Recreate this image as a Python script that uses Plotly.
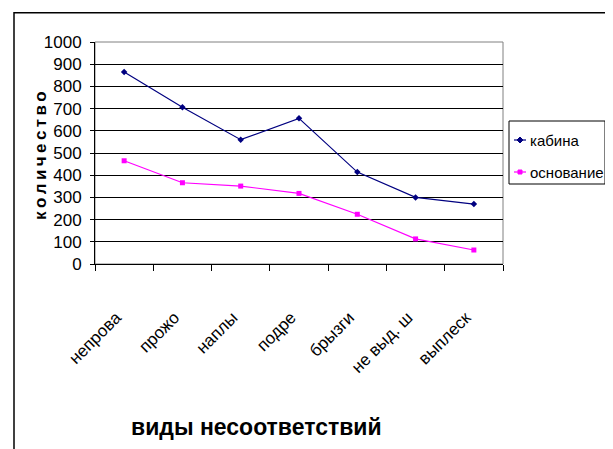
import plotly.graph_objects as go

categories = ["непрова", "прожо", "наплы", "подре", "брызги", "не выд. ш", "выплеск"]
kabina = [865, 706, 560, 656, 414, 300, 270]
osnovanie = [465, 366, 351, 318, 224, 113, 63]
y_ticks = [0, 100, 200, 300, 400, 500, 600, 700, 800, 900, 1000]
series_names = ["кабина", "основание"]
series_colors = ["#000080", "#FF00FF"]

FONT = "Liberation Sans, Arial, sans-serif"

# reference-pixel -> paper helpers (plot area 95..503 x, 42..264 y in the reference)
def px(x):
    return (x - 95) / 408.0

def py(y):
    return (264 - y) / 222.0

fig = go.Figure()
fig.add_trace(go.Scatter(
    x=categories, y=kabina, name=series_names[0], mode="lines+markers",
    line=dict(color=series_colors[0], width=1.2),
    marker=dict(symbol="diamond", size=5, color=series_colors[0]),
))
fig.add_trace(go.Scatter(
    x=categories, y=osnovanie, name=series_names[1], mode="lines+markers",
    line=dict(color=series_colors[1], width=1.2),
    marker=dict(symbol="square", size=5, color=series_colors[1]),
))

shapes = [
    dict(type="rect", xref="paper", yref="paper", x0=0, x1=1, y0=0, y1=1,
         line=dict(color="#808080", width=1), layer="below"),
    # outer chart border (left, top, right)
    dict(type="line", xref="paper", yref="paper", x0=px(14), x1=px(14),
         y0=py(470), y1=py(12), line=dict(color="black", width=1.5)),
    dict(type="rect", xref="paper", yref="paper", x0=px(14), x1=px(607),
         y0=py(13.5), y1=py(12), fillcolor="black", line=dict(width=0)),
    dict(type="line", xref="paper", yref="paper", x0=px(607), x1=px(607),
         y0=py(470), y1=py(12), line=dict(color="black", width=1.5)),
    # legend box
    dict(type="rect", xref="paper", yref="paper", x0=px(509), x1=px(605),
         y0=py(184), y1=py(121), line=dict(color="black", width=1), fillcolor="white"),
]
annotations = [
    dict(text="<b>к\u2009о\u2009л\u2009и\u2009ч\u2009е\u2009с\u2009т\u2009в\u2009о</b>",
         xref="paper", yref="paper", x=px(40), y=py(156), textangle=-90,
         xanchor="center", yanchor="middle",
         showarrow=False, font=dict(family=FONT, size=17, color="black")),
    dict(text="<b>виды несоответствий</b>", xref="paper", yref="paper",
         x=px(256), y=py(427), showarrow=False, xanchor="center", yanchor="middle",
         font=dict(family=FONT, size=23, color="black")),
]

legend_rows = [140, 172]
for name, color, row, sym in zip(series_names, series_colors, legend_rows, ["diamond", "square"]):
    shapes.append(dict(type="line", xref="paper", yref="paper",
                       x0=px(514), x1=px(526), y0=py(row), y1=py(row),
                       line=dict(color=color, width=1.2)))
    if sym == "diamond":
        path = "M {} {} L {} {} L {} {} L {} {} Z".format(
            px(520), py(row - 3), px(523), py(row), px(520), py(row + 3), px(517), py(row))
    else:
        path = "M {} {} L {} {} L {} {} L {} {} Z".format(
            px(518), py(row - 2), px(522), py(row - 2), px(522), py(row + 2), px(518), py(row + 2))
    shapes.append(dict(type="path", xref="paper", yref="paper", path=path,
                       fillcolor=color, line=dict(color=color, width=1)))
    annotations.append(dict(text=name, xref="paper", yref="paper", x=px(528), y=py(row),
                            xanchor="left", yanchor="middle", showarrow=False,
                            font=dict(family=FONT, size=15, color="black")))

# page body has an 8px margin: figure is 605x441 and shifted by 8px
fig.update_layout(
    width=605, height=441,
    margin=dict(l=87, r=110, t=34, b=185, autoexpand=False),
    paper_bgcolor="white", plot_bgcolor="white",
    font=dict(family=FONT, size=16, color="black"),
    showlegend=False,
    xaxis=dict(
        type="category", showgrid=False, showline=True, linecolor="black", linewidth=1,
        ticks="outside", tickson="boundaries", ticklen=6, tickcolor="black",
        tickangle=-45, ticklabelstandoff=36, ticklabelshift=-8,
        tickfont=dict(family=FONT, size=17, color="black"),
        range=[-0.5, 6.5],
    ),
    yaxis=dict(
        range=[0, 1000], tickvals=y_ticks, showgrid=True, gridcolor="black", gridwidth=1,
        showline=True, linecolor="black", linewidth=1, ticks="outside", ticklen=4,
        tickcolor="black", ticklabelstandoff=5,
        tickfont=dict(family=FONT, size=17, color="black"), zeroline=False,
    ),
    shapes=shapes,
    annotations=annotations,
)

fig.write_html("out.html", config={"displayModeBar": False})
